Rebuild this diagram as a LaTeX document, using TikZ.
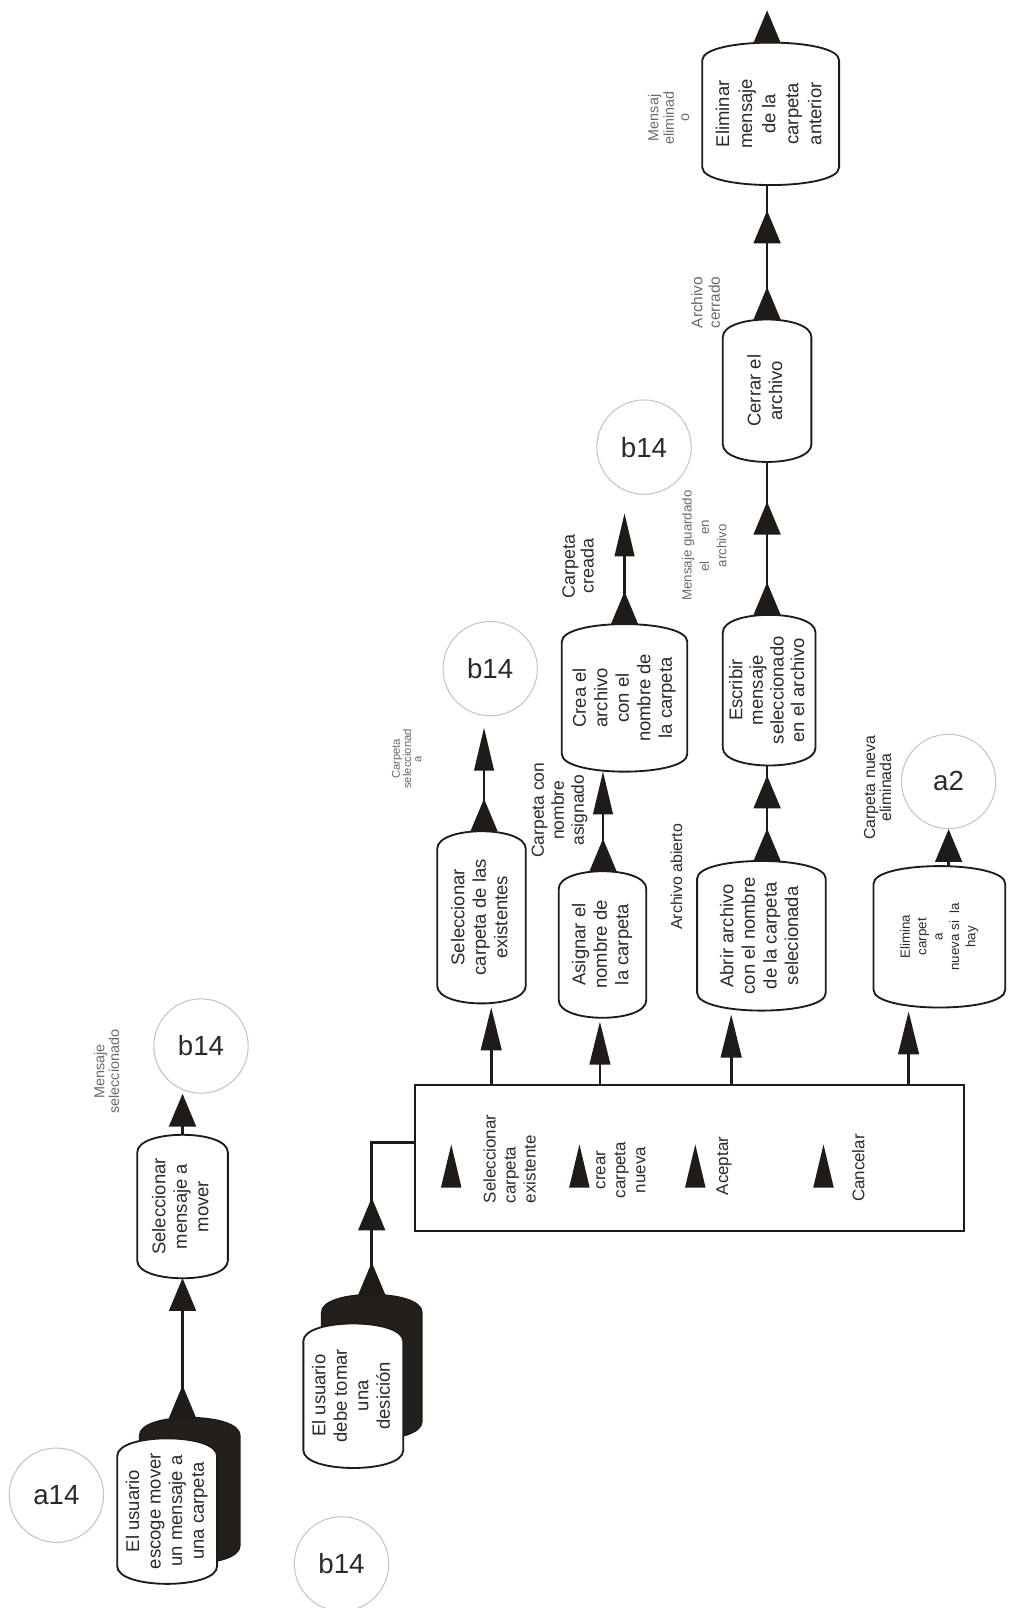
\documentclass[tikz,border=0pt]{standalone}
\usepackage{fontspec}
\setmainfont{Liberation Sans}
\usepackage{graphicx}
\usetikzlibrary{arrows.meta,decorations.markings,backgrounds}

\definecolor{ink}{HTML}{1E1B19}
\definecolor{txt}{HTML}{2A2A2A}
\definecolor{lbl}{HTML}{6A6A6A}
\definecolor{ringc}{HTML}{C4C4C4}
\definecolor{shade}{HTML}{231F1C}

\newcommand\vt[2][c]{\rotatebox{90}{\begin{tabular}{@{}#1@{}}#2\end{tabular}}}
\newcommand\barrel[2][]{%
  \path[draw=ink,line width=1.8pt,#1]
    ([yshift=-17pt]#2.north west) .. controls ([yshift=6pt]#2.north west) and ([yshift=6pt]#2.north east) .. ([yshift=-17pt]#2.north east)
    -- ([yshift=17pt]#2.south east) .. controls ([yshift=-6pt]#2.south east) and ([yshift=-6pt]#2.south west) .. ([yshift=17pt]#2.south west)
    -- cycle;}

\tikzset{
  box/.style={inner sep=0pt, font=\fontsize{18}{21}\selectfont, text=txt},
  lab/.style={inner sep=0pt, font=\fontsize{15}{17}\selectfont, text=lbl},
  dlab/.style={inner sep=0pt, font=\fontsize{16.5}{19.5}\selectfont, text=txt},
  ringnode/.style={circle, draw=ringc, line width=1pt, minimum size=92pt, inner sep=0pt,
                   font=\fontsize{27}{27}\selectfont, text=txt},
  flow/.style={draw=ink, line width=2.6pt},
  endtri/.style={-{Triangle[length=32pt,width=26pt]}},
  narrowtri/.style={-{Triangle[length=42pt,width=19pt]}},
  talltri/.style={-{Triangle[length=42pt,width=20pt]}},
  tristart/.style={postaction={decorate,decoration={markings,
      mark=at position 32pt with {\arrow{Triangle[length=32pt,width=26pt]}}}}},
  triat/.style={postaction={decorate,decoration={markings,
      mark=at position #1 with {\arrow{Triangle[length=32pt,width=26pt]}}}}},
}

\begin{document}
\begin{tikzpicture}[x=1pt,y=1pt]
\useasboundingbox (0,0) rectangle (985,-1568);

% circles
\node[ringnode] (a14)  at (55,-1458) {a14};
\node[ringnode] (b14a) at (196,-1020) {b14};
\node[ringnode] (b14b) at (333,-1525) {b14};
\node[ringnode] (b14c) at (478,-652) {b14};
\node[ringnode] (b14d) at (628,-436) {b14};
\node[ringnode] (a2)   at (925,-762) {a2};

% boxes
\node[box,minimum width=97pt,minimum height=141pt] (As) at (185,-1453.5) {};
\node[box,minimum width=97pt,minimum height=141pt] (A) at (163,-1473.5)
  {\vt{El usuario\\escoge mover\\un mensaje a\\una carpeta}};
\node[box,minimum width=88pt,minimum height=139pt] (B) at (178,-1176.5)
  {\vt{Seleccionar\\mensaje a\\mover}};
\node[box,minimum width=97pt,minimum height=140pt] (Cs) at (362.5,-1333) {};
\node[box,minimum width=97pt,minimum height=140pt] (C) at (344.5,-1361)
  {\vt{El usuario\\debe tomar\\una\\desición}};
\node[draw=ink,line width=1.8pt,minimum width=535pt,minimum height=142pt,inner sep=0pt] (D) at (672.5,-1129) {};
\node[box,minimum width=86pt,minimum height=167pt] (E) at (469.5,-894.5)
  {\vt{Seleccionar\\carpeta de las\\existentes}};
\node[box,minimum width=85pt,minimum height=142pt] (F) at (587.5,-921)
  {\vt{Asignar el\\nombre de\\la carpeta}};
\node[box,minimum width=122pt,minimum height=143pt] (G) at (609,-680.5)
  {\vt{Crea el\\archivo\\con el\\nombre de\\la carpeta}};
\node[box,minimum width=125pt,minimum height=145pt] (H) at (742.5,-912.5)
  {\vt{Abrir archivo\\con el nombre\\de la carpeta\\selecionada}};
\node[box,minimum width=90pt,minimum height=146pt,font=\fontsize{18}{20}\selectfont] (I) at (750,-673)
  {\vt{Escribir\\mensaje\\seleccionado\\en el archivo}};
\node[box,minimum width=86pt,minimum height=138pt] (J) at (748,-381)
  {\vt{Cerrar el\\archivo}};
\node[box,minimum width=133pt,minimum height=138pt,font=\fontsize{18}{22.5}\selectfont] (K) at (751.5,-111)
  {\vt{Eliminar\\mensaje\\de la\\carpeta\\anterior}};
\node[box,minimum width=128pt,minimum height=137pt,font=\fontsize{13}{16}\selectfont] (L) at (916,-913.5)
  {\vt{Elimina\\carpet\\a\\nueva si\ \ la\\hay}};

% decision box contents
\node[dlab] (d1) at (499,-1130) {\vt[l]{Seleccionar\\carpeta\\existente}};
\node[dlab] (d2) at (606,-1141) {\vt{crear\\carpeta\\nueva}};
\node[dlab] (d3) at (706,-1137) {\vt{Aceptar}};
\node[dlab] (d4) at (839,-1139) {\vt{Cancelar}};
\foreach \tx in {440,565,678,803}{
  \fill[ink] (\tx-10,-1158) -- (\tx,-1116) -- (\tx+10,-1158) -- cycle;}

% labels
\node[lab,font=\fontsize{14}{14}\selectfont] (l1) at (106,-1045) {\vt{Mensaje\\seleccionado}};
\node[lab,font=\fontsize{11}{10}\selectfont] (l2) at (398,-740) {\vt{Carpeta\\seleccionad\\a}};
\node[lab,font=\fontsize{17}{19.5}\selectfont,text=txt] (l3) at (546,-790) {\vt{Carpeta con\\nombre\\asignado}};
\node[lab,font=\fontsize{17.5}{18.5}\selectfont,text=txt] (l4) at (566,-552) {\vt{Carpeta\\creada}};
\node[lab,font=\fontsize{15.5}{16}\selectfont,text=txt] (l5) at (662,-855) {\vt{Archivo abierto}};
\node[lab,font=\fontsize{13}{17}\selectfont] (l6) at (688,-532) {\vt{Mensaje guardado\\el\qquad en\\archivo}};
\node[lab] (l7) at (690,-295) {\vt{Archivo\\cerrado}};
\node[lab,font=\fontsize{14}{15}\selectfont] (l8) at (654,-115) {\vt{Mensaj\\eliminad\\o}};
\node[lab,font=\fontsize{15.5}{15}\selectfont,text=txt] (l9) at (858,-768) {\vt{Carpeta nueva\\eliminada}};

% box outlines on background
\begin{scope}[on background layer]
  \fill[white] (0,0) rectangle (985,-1568);
  \barrel[fill=shade]{As}
  \barrel[fill=white]{A}
  \barrel[fill=shade]{Cs}
  \barrel[fill=white]{C}
  \foreach \n in {B,E,F,G,H,I,J,K,L}{\barrel[fill=white]{\n}}
\end{scope}

% connectors
\coordinate (ktop) at (748,-10);
\draw[flow,endtri] (K.north -| J.north) -- (ktop);
\draw[flow,tristart,triat=-25pt] (J.north) -- (J.north |- K.south);
\draw[flow,tristart,triat=-39pt] (J.south |- I.north) -- (J.south);
\draw[flow,tristart,triat=-10pt] (J.south |- H.north) -- (J.south |- I.south);
\draw[flow,tristart,narrowtri] (588,0 |- F.north) -- (588,0 |- G.south);
\draw[flow,tristart,narrowtri,shorten >=18pt] (G.north) -- (G.north |- b14d.south);
\draw[flow,tristart,narrowtri,shorten >=11pt] (472,0 |- E.north) -- (472,0 |- b14c.south);
\draw[flow,endtri] (a2.south |- L.north) -- (a2.south);
\draw[flow,endtri] (B.north) -- (B.north |- b14a.south);
\draw[flow,tristart,endtri] (B.south |- As.north) -- (B.south);
\coordinate (dj) at ([yshift=-57pt]D.north west);
\draw[flow,tristart,triat=95pt] (Cs.north) |- (dj);
\draw[flow,talltri,shorten >=4pt] (479,0 |- D.north) -- (479,0 |- E.south);
\draw[flow,talltri,shorten >=4pt] (585,0 |- D.north) -- (585,0 |- F.south);
\draw[flow,talltri,shorten >=4pt] (713,0 |- D.north) -- (713,0 |- H.south);
\draw[flow,talltri,shorten >=4pt] (886,0 |- D.north) -- (886,0 |- L.south);
\end{tikzpicture}
\end{document}
